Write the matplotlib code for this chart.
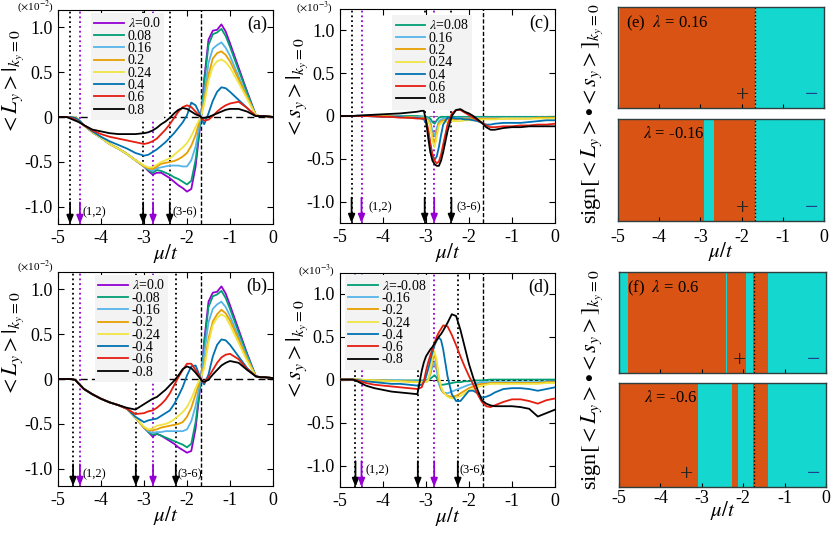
import matplotlib
matplotlib.use("Agg")
import matplotlib.pyplot as plt
from matplotlib.colors import ListedColormap

plt.rcParams['font.family'] = ['Liberation Serif', 'DejaVu Serif']
plt.rcParams['mathtext.fontset'] = 'stix'
plt.rcParams['axes.unicode_minus'] = False

# chemical potential grids (mu/t)
mu_L = [-5.0, -4.8, -4.7, -4.6, -4.5, -4.4, -4.2, -4.0, -3.8, -3.6,
        -3.4, -3.2, -3.0, -2.9, -2.8, -2.7, -2.6, -2.5, -2.4, -2.3,
        -2.2, -2.1, -2.0, -1.9, -1.8, -1.7, -1.65, -1.6, -1.5, -1.4,
        -1.3, -1.2, -1.1, -1.0, -0.8, -0.6, -0.4, -0.3, -0.2, 0.0]
mu_s = [-5.0, -4.7, -4.6, -4.4, -4.2, -4.0, -3.8, -3.6, -3.4, -3.2,
        -3.1, -3.05, -3.0, -2.95, -2.9, -2.85, -2.8, -2.75, -2.7, -2.65,
        -2.6, -2.5, -2.4, -2.3, -2.2, -2.1, -2.0, -1.9, -1.8, -1.7,
        -1.6, -1.5, -1.4, -1.2, -1.0, -0.8, -0.6, -0.4, -0.2, 0.0]

# panel (a): <L_y> (x1e-2), lambda >= 0
a_l00 = [0, 0, 0, 0, -0.04, -0.09, -0.17, -0.23, -0.30, -0.35,
         -0.41, -0.48, -0.55, -0.60, -0.64, -0.62, -0.62, -0.65, -0.68, -0.72,
         -0.76, -0.79, -0.83, -0.80, -0.55, -0.12, 0.12, 0.42, 0.86, 0.96,
         0.97, 1.03, 0.95, 0.82, 0.55, 0.28, 0.02, 0.01, 0.01, 0.0]
a_l08 = [0, 0, 0, 0, -0.04, -0.09, -0.17, -0.23, -0.30, -0.35,
         -0.41, -0.48, -0.55, -0.59, -0.62, -0.59, -0.60, -0.62, -0.64, -0.67,
         -0.69, -0.72, -0.75, -0.71, -0.48, -0.10, 0.10, 0.38, 0.80, 0.92,
         0.94, 0.98, 0.90, 0.78, 0.52, 0.27, 0.02, 0.01, 0.01, 0.0]
a_l16 = [0, 0, 0, 0, -0.04, -0.09, -0.17, -0.23, -0.30, -0.35,
         -0.41, -0.48, -0.55, -0.58, -0.60, -0.57, -0.56, -0.55, -0.54, -0.54,
         -0.54, -0.55, -0.55, -0.48, -0.33, -0.06, 0.08, 0.25, 0.60, 0.76,
         0.80, 0.83, 0.77, 0.68, 0.45, 0.23, 0.02, 0.01, 0.01, 0.0]
a_l20 = [0, 0, 0, 0, -0.04, -0.09, -0.17, -0.23, -0.30, -0.35,
         -0.41, -0.48, -0.55, -0.57, -0.58, -0.55, -0.52, -0.51, -0.50, -0.49,
         -0.47, -0.44, -0.40, -0.32, -0.20, -0.03, 0.06, 0.18, 0.47, 0.65,
         0.71, 0.73, 0.69, 0.62, 0.42, 0.22, 0.02, 0.01, 0.01, 0.0]
a_l24 = [0, 0, 0, 0, -0.04, -0.09, -0.17, -0.23, -0.30, -0.35,
         -0.41, -0.48, -0.54, -0.56, -0.56, -0.53, -0.50, -0.48, -0.46, -0.42,
         -0.38, -0.34, -0.29, -0.21, -0.11, -0.02, 0.05, 0.14, 0.40, 0.56,
         0.62, 0.64, 0.61, 0.55, 0.38, 0.20, 0.02, 0.01, 0.01, 0.0]
a_l40 = [0, 0, 0, -0.01, -0.04, -0.09, -0.16, -0.22, -0.27, -0.31,
         -0.35, -0.40, -0.43, -0.42, -0.39, -0.36, -0.32, -0.28, -0.23, -0.18,
         -0.12, -0.06, 0.02, 0.16, 0.13, 0.03, -0.04, -0.08, 0.04, 0.18,
         0.28, 0.33, 0.32, 0.28, 0.19, 0.10, 0.01, 0.01, 0.01, 0.0]
a_l60 = [0, 0, -0.01, -0.03, -0.06, -0.09, -0.15, -0.19, -0.22, -0.24,
         -0.26, -0.28, -0.30, -0.29, -0.27, -0.24, -0.19, -0.14, -0.08, -0.01,
         0.06, 0.11, 0.13, 0.11, 0.06, 0.01, -0.02, -0.04, -0.03, 0.01,
         0.06, 0.10, 0.13, 0.15, 0.17, 0.10, 0.01, 0.01, 0.01, 0.0]
a_l80 = [0, 0, -0.02, -0.04, -0.06, -0.09, -0.14, -0.16, -0.18, -0.19,
         -0.19, -0.19, -0.18, -0.17, -0.15, -0.12, -0.08, -0.05, -0.01, 0.04,
         0.08, 0.10, 0.09, 0.06, 0.03, 0.01, -0.01, -0.01, 0.0, 0.02,
         0.04, 0.06, 0.08, 0.09, 0.09, 0.06, 0.01, 0.01, 0.01, 0.0]

# panel (b): <L_y> (x1e-2), lambda <= 0
b_l00 = [0, 0, 0, -0.01, -0.06, -0.11, -0.17, -0.22, -0.26, -0.29,
         -0.33, -0.43, -0.54, -0.59, -0.64, -0.61, -0.63, -0.66, -0.69, -0.72,
         -0.76, -0.79, -0.82, -0.80, -0.55, -0.12, 0.12, 0.42, 0.86, 0.96,
         0.97, 1.03, 0.95, 0.82, 0.55, 0.28, 0.03, 0.02, 0.02, 0.01]
b_m08 = [0, 0, 0, -0.01, -0.06, -0.11, -0.17, -0.22, -0.26, -0.29,
         -0.33, -0.43, -0.54, -0.59, -0.62, -0.61, -0.63, -0.65, -0.67, -0.69,
         -0.71, -0.73, -0.76, -0.72, -0.48, -0.10, 0.10, 0.38, 0.80, 0.92,
         0.94, 0.98, 0.90, 0.78, 0.52, 0.27, 0.03, 0.02, 0.02, 0.01]
b_m16 = [0, 0, 0, -0.01, -0.06, -0.11, -0.17, -0.22, -0.26, -0.29,
         -0.33, -0.43, -0.54, -0.58, -0.60, -0.59, -0.59, -0.58, -0.58, -0.58,
         -0.58, -0.58, -0.56, -0.47, -0.30, -0.05, 0.10, 0.28, 0.63, 0.78,
         0.83, 0.86, 0.80, 0.70, 0.47, 0.24, 0.03, 0.02, 0.02, 0.01]
b_m20 = [0, 0, 0, -0.01, -0.06, -0.11, -0.17, -0.22, -0.26, -0.29,
         -0.33, -0.43, -0.54, -0.57, -0.57, -0.56, -0.54, -0.53, -0.52, -0.51,
         -0.50, -0.48, -0.42, -0.32, -0.17, -0.02, 0.07, 0.15, 0.45, 0.64,
         0.72, 0.77, 0.73, 0.65, 0.44, 0.22, 0.03, 0.02, 0.02, 0.01]
b_m24 = [0, 0, 0, -0.01, -0.06, -0.11, -0.17, -0.22, -0.26, -0.29,
         -0.33, -0.43, -0.53, -0.56, -0.55, -0.52, -0.51, -0.50, -0.48, -0.45,
         -0.41, -0.37, -0.31, -0.22, -0.10, 0.0, 0.05, 0.12, 0.40, 0.60,
         0.68, 0.72, 0.69, 0.60, 0.40, 0.20, 0.03, 0.02, 0.02, 0.01]
b_m40 = [0, 0, 0, -0.01, -0.06, -0.11, -0.17, -0.22, -0.26, -0.29,
         -0.33, -0.42, -0.48, -0.46, -0.45, -0.44, -0.41, -0.38, -0.35, -0.28,
         -0.19, -0.09, 0.04, 0.14, 0.15, 0.03, -0.03, -0.06, 0.05, 0.25,
         0.38, 0.44, 0.43, 0.38, 0.25, 0.12, 0.03, 0.02, 0.02, 0.01]
b_m60 = [0, 0, 0, -0.01, -0.06, -0.11, -0.17, -0.22, -0.26, -0.29,
         -0.33, -0.39, -0.38, -0.36, -0.35, -0.32, -0.28, -0.23, -0.16, -0.07,
         0.02, 0.10, 0.17, 0.17, 0.10, 0.02, -0.02, -0.04, 0.02, 0.10,
         0.18, 0.24, 0.27, 0.28, 0.22, 0.11, 0.03, 0.02, 0.02, 0.01]
b_m80 = [0, 0, 0, -0.01, -0.06, -0.11, -0.17, -0.22, -0.26, -0.29,
         -0.32, -0.34, -0.28, -0.25, -0.22, -0.20, -0.16, -0.12, -0.07, -0.02,
         0.04, 0.11, 0.14, 0.12, 0.07, 0.01, -0.02, -0.03, -0.01, 0.05,
         0.10, 0.15, 0.18, 0.20, 0.18, 0.10, 0.03, 0.02, 0.02, 0.01]

# panel (c): <s_y> (x1e-3), lambda > 0
c_l08 = [0, 0, 0, 0, 0, 0, 0, 0, 0, 0,
         -0.005, -0.005, -0.01, -0.015, -0.03, -0.07, -0.09, -0.05, -0.02, -0.01,
         -0.01, -0.01, -0.01, -0.01, -0.01, -0.01, -0.01, -0.01, -0.01, -0.01,
         -0.01, -0.01, -0.01, -0.01, -0.01, -0.01, -0.01, -0.01, -0.01, -0.01]
c_l16 = [0, 0, 0, 0, 0, 0, 0, -0.005, -0.01, -0.01,
         -0.01, -0.01, -0.02, -0.03, -0.07, -0.18, -0.23, -0.14, -0.06, -0.04,
         -0.03, -0.03, -0.03, -0.02, -0.02, -0.02, -0.02, -0.02, -0.02, -0.02,
         -0.02, -0.02, -0.02, -0.02, -0.02, -0.02, -0.02, -0.02, -0.02, -0.02]
c_l20 = [0, 0, 0, 0, 0, 0, -0.005, -0.01, -0.01, -0.02,
         -0.02, -0.02, -0.03, -0.05, -0.10, -0.25, -0.31, -0.20, -0.09, -0.06,
         -0.05, -0.04, -0.04, -0.04, -0.03, -0.03, -0.03, -0.03, -0.03, -0.03,
         -0.03, -0.03, -0.03, -0.03, -0.03, -0.03, -0.03, -0.02, -0.02, -0.02]
c_l24 = [0, 0, 0, 0, 0, -0.005, -0.01, -0.01, -0.02, -0.02,
         -0.03, -0.03, -0.04, -0.06, -0.12, -0.29, -0.36, -0.24, -0.11, -0.08,
         -0.07, -0.07, -0.06, -0.06, -0.06, -0.05, -0.05, -0.05, -0.04, -0.04,
         -0.04, -0.04, -0.04, -0.03, -0.03, -0.03, -0.03, -0.03, -0.03, -0.03]
c_l40 = [0, 0, 0, 0, -0.005, -0.01, -0.01, -0.01, -0.02, -0.02,
         -0.03, -0.04, -0.08, -0.18, -0.33, -0.46, -0.51, -0.47, -0.36, -0.22,
         -0.10, -0.02, -0.02, -0.03, -0.03, -0.04, -0.04, -0.05, -0.06, -0.08,
         -0.10, -0.10, -0.09, -0.08, -0.08, -0.08, -0.07, -0.06, -0.05, -0.05]
c_l60 = [0, 0, 0, 0, -0.005, -0.01, -0.01, -0.02, -0.02, -0.03,
         -0.03, -0.03, -0.05, -0.15, -0.32, -0.45, -0.52, -0.55, -0.53, -0.45,
         -0.33, -0.10, 0.03, 0.07, 0.07, 0.04, 0.01, -0.02, -0.05, -0.08,
         -0.11, -0.13, -0.13, -0.12, -0.12, -0.11, -0.11, -0.10, -0.10, -0.09]
c_l80 = [0, 0, 0.005, 0.01, 0.015, 0.02, 0.025, 0.03, 0.04, 0.05,
         0.06, 0.06, -0.05, -0.25, -0.42, -0.52, -0.56, -0.58, -0.58, -0.52,
         -0.42, -0.18, 0.0, 0.07, 0.08, 0.05, 0.03, 0.0, -0.04, -0.08,
         -0.13, -0.16, -0.16, -0.14, -0.13, -0.13, -0.12, -0.12, -0.12, -0.12]

# panel (d): <s_y> (x1e-3), lambda < 0
d_m08 = [0, 0, 0, -0.005, -0.01, -0.01, -0.01, -0.01, -0.01, -0.01,
         -0.01, -0.01, -0.01, 0.0, 0.01, 0.03, 0.05, 0.02, -0.04, -0.06,
         -0.06, -0.05, -0.04, -0.03, -0.03, -0.02, -0.02, -0.01, -0.01, -0.01,
         -0.005, 0, 0, 0, 0, 0, 0, 0, 0, 0]
d_m16 = [0, 0, 0, -0.005, -0.01, -0.01, -0.01, -0.01, -0.015, -0.02,
         -0.02, -0.02, -0.02, 0.0, 0.06, 0.15, 0.20, 0.10, -0.05, -0.12,
         -0.15, -0.16, -0.14, -0.12, -0.10, -0.08, -0.06, -0.05, -0.04, -0.03,
         -0.03, -0.03, -0.03, -0.03, -0.03, -0.03, -0.03, -0.03, -0.02, -0.02]
d_m20 = [0, 0, 0, -0.005, -0.01, -0.01, -0.015, -0.02, -0.02, -0.03,
         -0.03, -0.03, -0.03, -0.01, 0.08, 0.22, 0.29, 0.18, 0.0, -0.10,
         -0.15, -0.19, -0.20, -0.19, -0.16, -0.13, -0.10, -0.08, -0.06, -0.05,
         -0.05, -0.04, -0.04, -0.04, -0.04, -0.04, -0.04, -0.04, -0.03, -0.03]
d_m24 = [0, 0, 0, -0.005, -0.01, -0.015, -0.02, -0.02, -0.03, -0.03,
         -0.03, -0.03, -0.03, -0.01, 0.10, 0.26, 0.33, 0.22, 0.03, -0.08,
         -0.14, -0.20, -0.22, -0.21, -0.19, -0.16, -0.13, -0.11, -0.09, -0.07,
         -0.06, -0.05, -0.05, -0.05, -0.05, -0.05, -0.05, -0.05, -0.04, -0.04]
d_m40 = [0, 0, -0.005, -0.02, -0.03, -0.04, -0.05, -0.05, -0.06, -0.07,
         -0.06, -0.03, 0.03, 0.12, 0.22, 0.32, 0.40, 0.46, 0.49, 0.46,
         0.35, 0.04, -0.17, -0.25, -0.25, -0.19, -0.13, -0.13, -0.16, -0.21,
         -0.20, -0.18, -0.15, -0.11, -0.10, -0.10, -0.11, -0.13, -0.11, -0.09]
d_m60 = [0, 0, -0.01, -0.04, -0.06, -0.07, -0.08, -0.09, -0.10, -0.11,
         -0.09, -0.02, 0.10, 0.20, 0.28, 0.36, 0.43, 0.50, 0.55, 0.59,
         0.63, 0.62, 0.52, 0.40, 0.27, 0.15, 0.04, -0.06, -0.17, -0.26,
         -0.31, -0.32, -0.30, -0.26, -0.23, -0.23, -0.25, -0.28, -0.24, -0.22]
d_m80 = [0, 0, -0.02, -0.07, -0.10, -0.12, -0.14, -0.15, -0.16, -0.17,
         0.10, 0.20, 0.27, 0.31, 0.35, 0.38, 0.42, 0.46, 0.50, 0.53,
         0.57, 0.66, 0.76, 0.74, 0.58, 0.38, 0.18, 0.02, -0.12, -0.24,
         -0.28, -0.30, -0.31, -0.31, -0.31, -0.32, -0.34, -0.43, -0.39, -0.35]

labels_a = [r'$\lambda$=0.0', '0.08', '0.16', '0.2', '0.24', '0.4', '0.6', '0.8']
labels_b = [r'$\lambda$=0.0', '-0.08', '-0.16', '-0.2', '-0.24', '-0.4', '-0.6', '-0.8']
labels_c = [r'$\lambda$=0.08', '0.16', '0.2', '0.24', '0.4', '0.6', '0.8']
labels_d = [r'$\lambda$=-0.08', '-0.16', '-0.2', '-0.24', '-0.4', '-0.6', '-0.8']

# band edges marked by dotted lines / arrows, dashed line
a_black = [-4.72, -3.02, -2.40]
a_purple = [-4.49, -2.79]
b_black = [-4.65, -3.19, -2.26]
b_purple = [-4.49, -2.79]
c_black = [-4.73, -3.03, -2.41]
c_purple = [-4.50, -2.81]
d_black = [-4.64, -3.19, -2.26]
d_purple = [-4.50, -2.81]
dash_mu = -1.67

# sign[<L_y><s_y>] strips: region edges and sign in each region
e_pos_edges = [-5.0, -4.96, -1.67, 0.0]
e_pos_sign = [-1, 1, -1]
e_neg_edges = [-5.0, -2.91, -2.68, -1.67, 0.0]
e_neg_sign = [1, -1, 1, -1]
f_pos_edges = [-5.0, -4.78, -2.42, -2.38, -1.94, -1.76, -1.40, 0.0]
f_pos_sign = [-1, 1, -1, 1, -1, 1, -1]
f_neg_edges = [-5.0, -3.09, -2.27, -2.12, -1.76, -1.40, 0.0]
f_neg_sign = [1, -1, 1, -1, 1, -1]

purple = '#9400d3'
cols8 = [purple, '#009e73', '#56b4e9', '#e69f00', '#f0e442', '#0072b2', '#e51e10', '#000000']
c_orange = '#d95414'
c_cyan = '#14d8cf'

W, H = 831, 533
fig = plt.figure(figsize=(W / 100, H / 100), dpi=100)


def rect(l, t, r, b):
    return [l / W, 1 - b / H, (r - l) / W, (b - t) / H]


def line_panel(ax, mu, curves, labels, colors, blk, pur, ylab, tag, ylim,
               leg_xy, lab12, lab36, zero_style):
    for v, lab, c in zip(curves, labels, colors):
        ax.plot(mu, v, color=c, lw=1.3, label=lab, zorder=3)
    ax.axhline(0, **zero_style)
    for x in blk:
        ax.axvline(x, color='k', ls=':', lw=1.3, zorder=2.5)
    for x in pur:
        ax.axvline(x, color=purple, ls=':', lw=1.3, zorder=2.5)
    ax.axvline(dash_mu, color='k', ls=(0, (3, 1.5)), lw=1.0, zorder=2.5)
    for x, c in [(x, 'k') for x in blk] + [(x, purple) for x in pur]:
        ax.annotate('', xy=(x, ylim[0]), xytext=(x, -0.95),
                    arrowprops=dict(arrowstyle='-|>,head_length=0.5,head_width=0.2',
                                    color=c, lw=1.3, shrinkA=0, shrinkB=0), zorder=4)
    ax.text(lab12, -1.06, '(1,2)', fontsize=9, va='center', ha='left')
    ax.text(lab36, -1.06, '(3-6)', fontsize=9, va='center', ha='left')
    ax.set_xlim(-5, 0)
    ax.set_ylim(*ylim)
    ax.set_xticks([-5, -4, -3, -2, -1, 0])
    ax.set_xticklabels(['-5', '-4', '-3', '-2', '-1', '0'])
    ax.set_yticks([-1.0, -0.5, 0, 0.5, 1.0])
    ax.set_yticklabels(['-1.0', '-0.5', '0', '0.5', '1.0'])
    ax.tick_params(direction='in', top=True, right=True, length=4, width=0.8,
                   labelsize=13, pad=4)
    ax.set_xlabel(r'$\mu/t$', fontsize=15)
    ax.xaxis.set_label_coords(0.5, -0.085)
    ax.set_ylabel(ylab, fontsize=16)
    ax.text(0.972, 0.975, tag, transform=ax.transAxes, ha='right', va='top', fontsize=13)
    leg = ax.legend(loc='upper left', bbox_to_anchor=leg_xy, frameon=True, fancybox=False,
                    edgecolor='none', facecolor='#f3f3f3', framealpha=1, fontsize=10,
                    handlelength=2.1, handletextpad=0.3, labelspacing=-0.05,
                    borderpad=0.25, borderaxespad=0)
    leg.set_zorder(2.7)


ax_a = fig.add_axes(rect(58, 10, 273, 224))
line_panel(ax_a, mu_L, [a_l00, a_l08, a_l16, a_l20, a_l24, a_l40, a_l60, a_l80],
           labels_a, cols8, a_black, a_purple, r'$<L_y>|_{k_y=0}$', '(a)',
           (-1.19, 1.19), (0.153, 0.986), -4.42, -2.33,
           dict(color='k', ls=(0, (5, 3)), lw=1.0, zorder=2))
ax_a.yaxis.set_label_coords(-0.15, 0.66)

ax_b = fig.add_axes(rect(58, 272, 273, 486))
line_panel(ax_b, mu_L, [b_l00, b_m08, b_m16, b_m20, b_m24, b_m40, b_m60, b_m80],
           labels_b, cols8, b_black, b_purple, r'$<L_y>|_{k_y=0}$', '(b)',
           (-1.19, 1.19), (0.172, 0.986), -4.42, -2.23,
           dict(color='k', ls=(0, (5, 3)), lw=1.0, zorder=2))
ax_b.yaxis.set_label_coords(-0.15, 0.66)

ax_c = fig.add_axes(rect(340, 9, 555, 223))
line_panel(ax_c, mu_s, [c_l08, c_l16, c_l20, c_l24, c_l40, c_l60, c_l80],
           labels_c, cols8[1:], c_black, c_purple, r'$<s_y>|_{k_y=0}$', '(c)',
           (-1.245, 1.245), (0.242, 0.972), -4.33, -2.28,
           dict(color='#777777', ls=(0, (3, 2)), lw=0.8, zorder=2))
ax_c.yaxis.set_label_coords(-0.14, 0.63)

ax_d = fig.add_axes(rect(340, 273, 555, 487))
line_panel(ax_d, mu_s, [d_m08, d_m16, d_m20, d_m24, d_m40, d_m60, d_m80],
           labels_d, cols8[1:], d_black, d_purple, r'$<s_y>|_{k_y=0}$', '(d)',
           (-1.25, 1.24), (0.023, 0.99), -4.40, -2.23,
           dict(color='k', ls=(0, (3, 2)), lw=0.8, zorder=2))
ax_d.yaxis.set_label_coords(-0.14, 0.64)

fig.text(17 / W, 1 - 7 / H, r'($\times$10$^{-2}$)', fontsize=8, va='center')
fig.text(17 / W, 1 - 267 / H, r'($\times$10$^{-2}$)', fontsize=8, va='center')
fig.text(296 / W, 1 - 8 / H, r'($\times$10$^{-3}$)', fontsize=8, va='center')
fig.text(298 / W, 1 - 271 / H, r'($\times$10$^{-3}$)', fontsize=8, va='center')

sign_cmap = ListedColormap([c_cyan, c_orange])


def sign_strip(ax, edges, signs, text, plus_mu, vline, bottom, tickpad=4):
    ax.pcolormesh(edges, [0, 1], [signs], cmap=sign_cmap, vmin=-1, vmax=1)
    ax.axvline(vline, color='k', ls=':', lw=1.0)
    ax.text(0.04 if text.startswith('(') else 0.12, 0.93, text, transform=ax.transAxes,
            ha='left', va='top', fontsize=12)
    ax.text(plus_mu, 0.12, '+', fontsize=17, ha='center', va='center', color='#222222')
    ax.text(-0.3, 0.12, '\u2212', fontsize=17, ha='center', va='center', color='#1f3f8f')
    ax.set_xlim(-5, 0)
    ax.set_ylim(0, 1)
    ax.set_yticks([])
    ax.set_xticks([-5, -4, -3, -2, -1, 0])
    ax.tick_params(direction='in', length=3, width=0.8, labelsize=13, pad=tickpad,
                   top=False)
    for s in ax.spines.values():
        s.set_color('#2f3f3f')
        s.set_linewidth(1.0)
    if bottom:
        ax.set_xticklabels(['-5', '-4', '-3', '-2', '-1', '0'])
        ax.set_xlabel(r'$\mu/t$', fontsize=15)
    else:
        ax.set_xticklabels([])


ax_e1 = fig.add_axes(rect(618, 7, 824, 108))
sign_strip(ax_e1, e_pos_edges, e_pos_sign, r'(e)  $\lambda$ = 0.16', -1.97, -1.67, False)
ax_e2 = fig.add_axes(rect(618, 119, 824, 221))
sign_strip(ax_e2, e_neg_edges, e_neg_sign, r'$\lambda$ = -0.16', -1.97, -1.67, True, 6)
ax_e2.xaxis.set_label_coords(0.5, -0.19)

ax_f1 = fig.add_axes(rect(619, 272, 826, 373))
sign_strip(ax_f1, f_pos_edges, f_pos_sign, r'(f)  $\lambda$ = 0.6', -2.08, -1.75, False)
ax_f2 = fig.add_axes(rect(619, 383, 826, 487))
sign_strip(ax_f2, f_neg_edges, f_neg_sign, r'$\lambda$ = -0.6', -3.37, -1.75, True, 2)
ax_f2.xaxis.set_label_coords(0.5, -0.12)

sign_lab = r'sign$[<L_y>\bullet<s_y>]_{k_y=0}$'
fig.text(592 / W, 1 - 114 / H, sign_lab, rotation=90, fontsize=16, ha='center', va='center')
fig.text(592 / W, 1 - 380 / H, sign_lab, rotation=90, fontsize=16, ha='center', va='center')

fig.savefig('out.png', dpi=100)
